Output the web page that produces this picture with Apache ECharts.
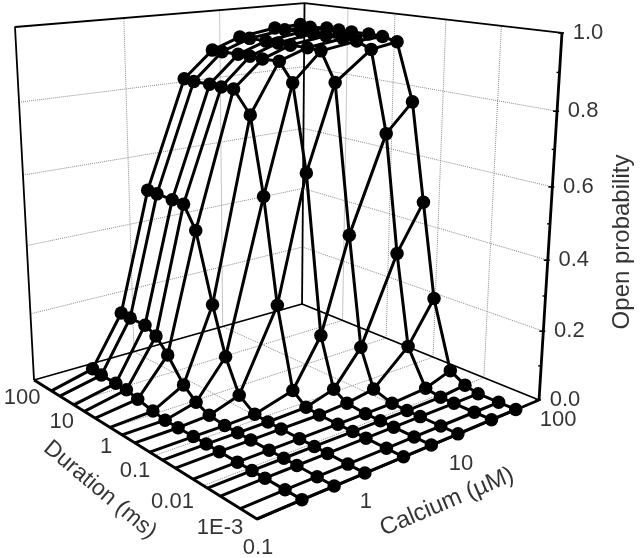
<!DOCTYPE html>
<html>
<head>
<meta charset="utf-8">
<style>html,body{margin:0;padding:0;background:#fff}#c{width:640px;height:558px}</style>
<script src="https://cdn.jsdelivr.net/npm/echarts@6/dist/echarts.min.js"></script>
</head>
<body>
<div id="c"></div>
<script>
// ---- data ----
var calcium = [0.25, 0.5, 1, 2.5, 5, 10, 25, 50];
var duration = [0.001, 0.002, 0.0047, 0.0083, 0.016, 0.037, 0.069, 0.13, 0.28, 0.55, 1.05, 2.4, 4.5, 8.3, 19.5, 33];
// open probability at each duration, one list per calcium
var pCa025 = [.001,.001,.001,.001,.001,.001,.001,.001,.001,.001,.007,.016,.025,.026,.026,.03];
var pCa05  = [.001,.001,.001,.001,.001,.001,.001,.001,.006,.023,.054,.118,.157,.173,.173,.175];
var pCa1   = [.001,.001,.001,.001,.001,.001,.001,.003,.035,.127,.26,.453,.516,.518,.52,.522];
var pCa25  = [.001,.001,.001,.001,.001,.001,.004,.034,.26,.552,.765,.826,.825,.826,.825,.827];
var pCa5   = [.001,.001,.001,.001,.001,.006,.028,.168,.612,.848,.90,.898,.90,.90,.90,.90];
var pCa10  = [.001,.001,.001,.001,.002,.019,.125,.435,.846,.925,.928,.928,.929,.929,.93,.93];
var pCa25b = [.001,.001,.001,.002,.009,.111,.37,.70,.924,.941,.943,.944,.945,.945,.945,.946];
var pCa50  = [.001,.001,.001,.01,.035,.23,.5,.777,.937,.946,.948,.947,.948,.949,.945,.949];
var pByCa = [pCa025, pCa05, pCa1, pCa25, pCa5, pCa10, pCa25b, pCa50];
var pTicks = [0, 0.2, 0.4, 0.6, 0.8, 1];
var pMinorTicks = [0.1, 0.3, 0.5, 0.7, 0.9];
var caTicks = [0.1, 1, 10, 100];
var durTicks = [100, 10, 1, 0.1, 0.01, 0.001];
var durTickText = ['100', '10', '1', '0.1', '0.01', '1E-3'];

// ---- 3D scales: log calcium, log duration, linear probability, then a perspective camera ----
function uOf(ca) { return (Math.log10(ca) + 1) / 3; }
function vOf(d) { return (Math.log10(d) + 3) / 5; }
function project(ca, d, p) {
  var u = uOf(ca), v = vOf(d), w = p;
  var Z = 0.2391 * u + 0.2637 * v + 1 - 0.096 * w;
  var x = (410.9 * u - 214.0 * v + 257 - 25.5 * w) / Z;
  var y = (-23.35 * u - 38.8 * v + 519 - 458 * w) / Z + w * (8 * v * (1 - u) + 4 * v * u);
  return [x, y];
}
var CA0 = 0.1, CA1 = 100, D0 = 0.001, D1 = 100;

var series = [];
function path(points, width, color, type, z) {
  series.push({ type: 'line', data: points, symbol: 'none', silent: true, animation: false, z: z || 2,
    lineStyle: { width: width, color: color, type: type || 'solid', cap: 'butt' } });
}
var GRID = '#8c8c8c';
function dotted(points) { path(points, 1, GRID, 'dotted', 1); }

// dotted grid on the two walls and the floor
[0.2, 0.4, 0.6, 0.8].forEach(function (p) {
  dotted([project(CA0, D1, p), project(CA1, D1, p)]);
  dotted([project(CA1, D1, p), project(CA1, D0, p)]);
});
[1, 10].forEach(function (c) {
  dotted([project(c, D1, 0), project(c, D1, 1)]);
  dotted([project(c, D0, 0), project(c, D1, 0)]);
});
[10, 1, 0.1, 0.01].forEach(function (d) {
  dotted([project(CA1, d, 0), project(CA1, d, 1)]);
  dotted([project(CA0, d, 0), project(CA1, d, 0)]);
});

// frame
path([project(CA0, D1, 0), project(CA1, D1, 0), project(CA1, D0, 0)], 1.8, '#000');
path([project(CA0, D1, 0), project(CA0, D1, 1), project(CA1, D1, 1), project(CA1, D0, 1)], 1.8, '#000');
path([project(CA1, D1, 0), project(CA1, D1, 1)], 1.8, '#000');
path([project(CA1, D0, 0), project(CA1, D0, 1)], 2.8, '#000', 'solid', 3);
path([project(CA0, D1, 0), project(CA0, D0, 0), project(CA1, D0, 0)], 2.8, '#000', 'solid', 3);

// ticks on the probability axis
pTicks.forEach(function (p) {
  var q = project(CA1, D0, p);
  path([[q[0] - 4, q[1]], [q[0] + 2, q[1]]], 1.6, '#000');
});
pMinorTicks.forEach(function (p) {
  var q = project(CA1, D0, p);
  path([[q[0] - 3, q[1]], [q[0], q[1]]], 1.4, '#000');
});

// wireframe: one line per duration (with markers) and one per calcium
duration.forEach(function (d, j) {
  var pts = [{ value: project(CA0, d, 0), symbol: 'none' }];
  calcium.forEach(function (c, i) { pts.push({ value: project(c, d, pByCa[i][j]) }); });
  series.push({ type: 'line', data: pts, symbol: 'circle', symbolSize: 13.5, silent: true, animation: false, z: 5,
    itemStyle: { color: '#000' }, lineStyle: { width: 3, color: '#000' } });
});
calcium.forEach(function (c, i) {
  path(duration.map(function (d, j) { return project(c, d, pByCa[i][j]); }), 3, '#000', 'solid', 4);
});

// text
var FONT = '"Liberation Sans", Arial, sans-serif';
function labels(items, size) {
  series.push({ type: 'scatter', symbolSize: 0, silent: true, animation: false, z: 6,
    data: items.map(function (t) {
      return { value: t.at, label: { show: true, position: 'inside', formatter: t.text, rotate: t.rot || 0,
        fontFamily: FONT, fontSize: size, color: '#000', align: 'center', verticalAlign: 'middle' } };
    }) });
}
function off(q, dx, dy) { return [q[0] + dx, q[1] + dy]; }
labels(pTicks.map(function (p) {
  var q = project(CA1, D0, p);
  return { at: off(q, 26, 0), text: p.toFixed(1) };
}), 22);
var caOff = [[1, 29], [1, 28], [3, 30], [19, 20]];
labels(caTicks.map(function (c, k) {
  return { at: off(project(c, D0, 0), caOff[k][0], caOff[k][1]), text: String(c) };
}), 22);
var durOff = [[-12, 18], [-9, 19], [-5, 19], [-20, 15], [-31, 16], [-37, 9]];
labels(durTicks.map(function (d, k) {
  return { at: off(project(CA0, d, 0), durOff[k][0], durOff[k][1]), text: durTickText[k] };
}), 22);
labels([{ at: [100, 490], text: 'Duration (ms)', rot: -40 }], 23);
labels([{ at: [447, 502], text: 'Calcium (\u00b5M)', rot: 23 }], 24);
labels([{ at: [622, 242], text: 'Open probability', rot: 90 }], 24);

var chart = echarts.init(document.getElementById('c'), null, { renderer: 'canvas' });
chart.setOption({
  animation: false,
  backgroundColor: '#fff',
  grid: { left: 0, right: 0, top: 0, bottom: 0 },
  xAxis: { type: 'value', min: 0, max: 640, show: false },
  yAxis: { type: 'value', min: 0, max: 558, inverse: true, show: false },
  series: series
});
</script>
</body>
</html>
